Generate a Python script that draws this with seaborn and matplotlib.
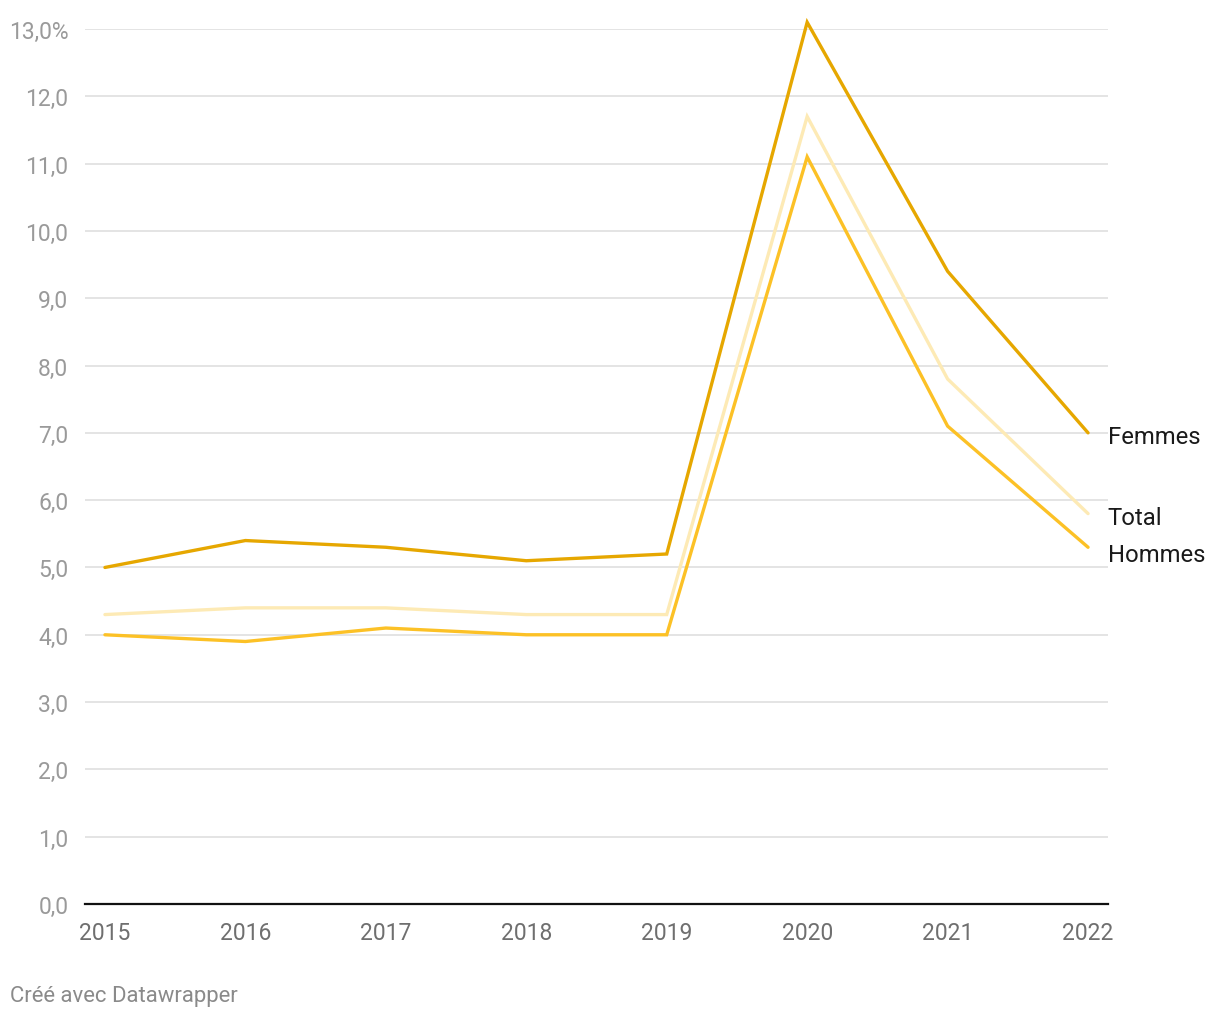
import numpy as np
import pandas as pd
import matplotlib.pyplot as plt
import seaborn as sns

# Données
annees = [2015, 2016, 2017, 2018, 2019, 2020, 2021, 2022]
femmes = [5.0, 5.4, 5.3, 5.1, 5.2, 13.1, 9.4, 7.0]
total = [4.3, 4.4, 4.4, 4.3, 4.3, 11.7, 7.8, 5.8]
hommes = [4.0, 3.9, 4.1, 4.0, 4.0, 11.1, 7.1, 5.3]

series = ['Total', 'Hommes', 'Femmes']
couleurs = {'Femmes': '#e6a700', 'Total': '#fdeab5', 'Hommes': '#fcc126'}

df = pd.DataFrame({'Annee': annees, 'Femmes': femmes, 'Total': total, 'Hommes': hommes})
df_long = df.melt(id_vars='Annee', var_name='Serie', value_name='Taux')

sns.set_style("white")
plt.rcParams['font.family'] = ['Roboto', 'DejaVu Sans']

fig = plt.figure(figsize=(12.2, 10.2), dpi=100)
ax = fig.add_axes([85 / 1220, 1 - 905 / 1020, (1108 - 85) / 1220, (905 - 30) / 1020])

sns.lineplot(data=df_long, x='Annee', y='Taux', hue='Serie', hue_order=series,
             palette=couleurs, linewidth=2.4, legend=False, ax=ax, clip_on=False)
for l in ax.lines:
    l.set_solid_joinstyle('miter')

ax.set_xlim(2015 - 0.142, 2022 + 0.142)
ax.set_ylim(0, 13)
ax.set_yticks(range(0, 14))
ax.set_yticklabels([f"{v},0%" if v == 13 else f"{v},0" for v in range(0, 14)])
ax.set_xticks(annees)
ax.set_xticklabels([str(a) for a in annees])

ax.grid(axis='y', color='#e2e2e2', linewidth=1.3)
ax.grid(axis='x', visible=False)
ax.set_axisbelow(True)
for s in ['top', 'right', 'left']:
    ax.spines[s].set_visible(False)
ax.spines['bottom'].set_color('#111111')
ax.spines['bottom'].set_linewidth(1.6)
ax.spines['bottom'].set_zorder(5)

ax.tick_params(axis='y', length=0, pad=12, labelsize=16.5, labelcolor='#9a9a9a')
ax.tick_params(axis='x', length=0, pad=12, labelsize=16.5, labelcolor='#6f6f6f')
ax.set_xlabel('')
ax.set_ylabel('')

# Étiquettes des séries
decalages = {'Femmes': -2.5, 'Total': -2.5, 'Hommes': -5.5}
for nom, valeurs in [('Femmes', femmes), ('Total', total), ('Hommes', hommes)]:
    ax.annotate(nom, xy=(annees[-1], valeurs[-1]), xytext=(14, decalages[nom]),
                textcoords='offset points', ha='left', va='center',
                fontsize=17.2, color='#1a1a1a', annotation_clip=False)

fig.text(10 / 1220, 1 - 997 / 1020, 'Créé avec Datawrapper', ha='left', va='center',
         fontsize=15.9, color='#8a8a8a')

fig.savefig('out.png', dpi=100, facecolor='white')
